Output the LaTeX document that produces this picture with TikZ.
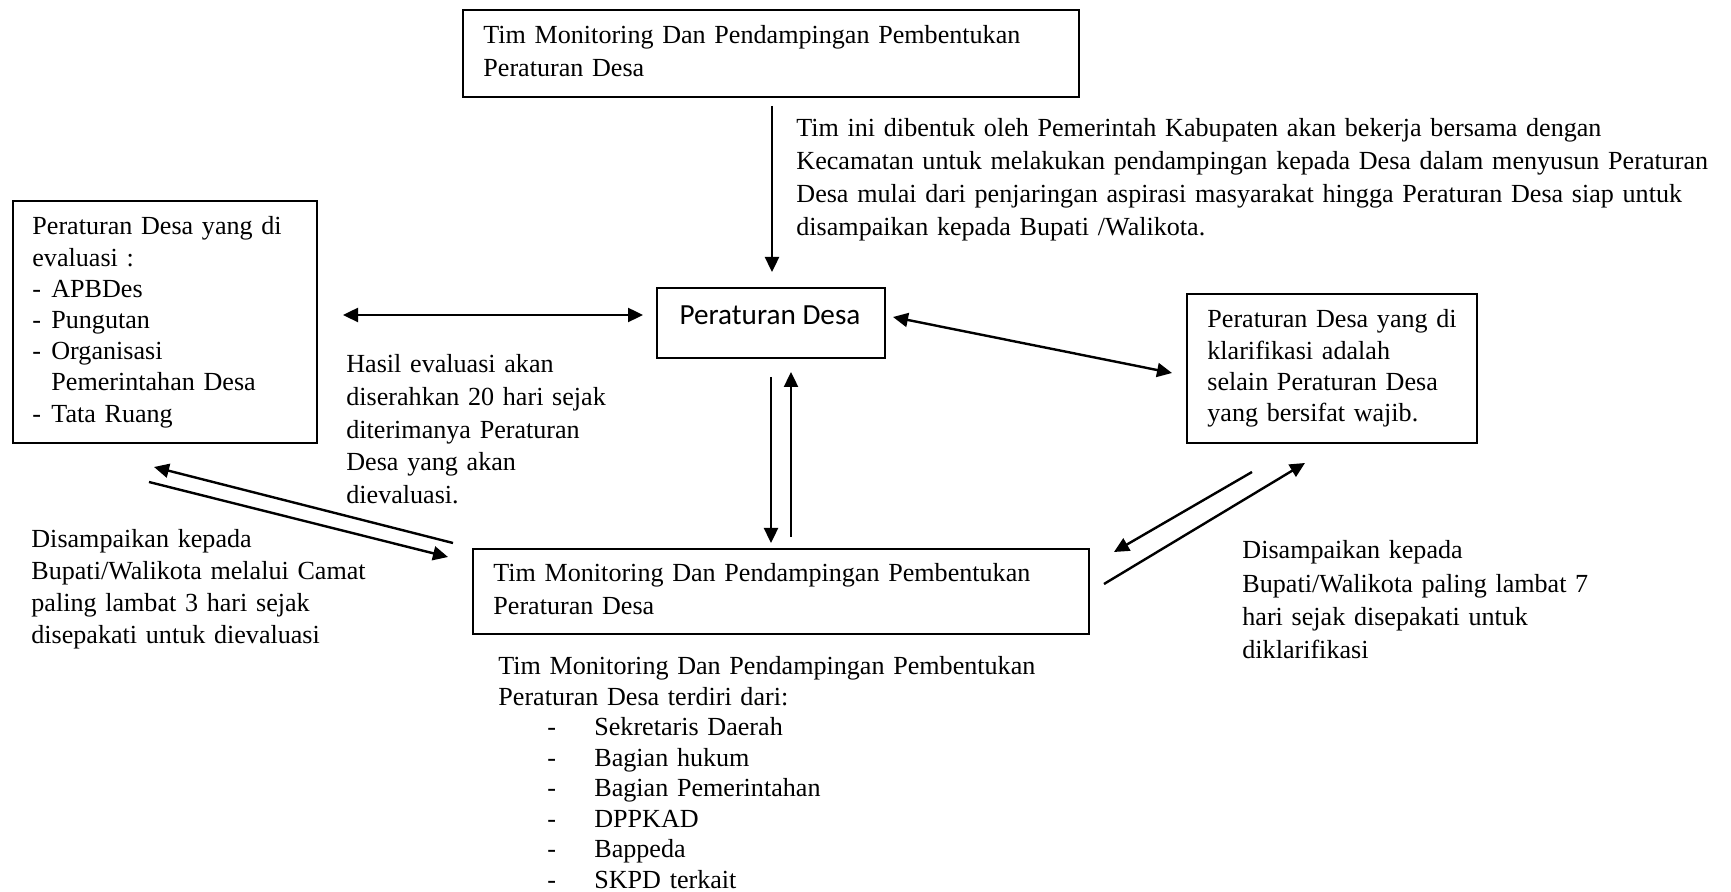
\documentclass[tikz,border=0pt]{standalone}
\usepackage{fontspec}
\setmainfont{Liberation Serif}
\newfontfamily\calfont{Carlito}
\usetikzlibrary{arrows.meta}
\begin{document}
\begin{tikzpicture}[x=0.5pt,y=-0.5pt,
  box/.style={draw, line width=1pt, rectangle, inner sep=0pt, anchor=north west},
  txt/.style={inner sep=0pt, anchor=base west, align=left, text width=330pt, font=\fontsize{13.05}{16.35}\selectfont},
  conn/.style={line width=1.2pt, -{Triangle[length=7.5pt,width=7pt]}},
  bconn/.style={line width=1.2pt, {Triangle[length=7.5pt,width=7pt]}-{Triangle[length=7.5pt,width=7pt]}}]
\useasboundingbox (0,0) rectangle (1731,892);

% boxes
\node[box, minimum width=308pt, minimum height=43.5pt] (top) at (462,9) {};
\node[txt] (toptxt) at (483,44) {Tim Monitoring Dan Pendampingan Pembentukan\\Peraturan Desa};

\node[box, minimum width=114pt, minimum height=35pt] (perdes) at (656,287) {};
\node[inner sep=0pt, anchor=base, font=\calfont\fontsize{14.6}{17}\selectfont] (perdestxt) at (770,325) {Peraturan Desa};

\node[box, minimum width=152pt, minimum height=121pt] (evalbox) at (12,200) {};
\node[txt, font=\fontsize{13.05}{15.6}\selectfont] (evaltxt) at (32,235) {Peraturan Desa yang di\\evaluasi :\\\makebox[9.5pt][l]{-}APBDes\\\makebox[9.5pt][l]{-}Pungutan\\\makebox[9.5pt][l]{-}Organisasi\\\hspace*{9.5pt}Pemerintahan Desa\\\makebox[9.5pt][l]{-}Tata Ruang};

\node[box, minimum width=145pt, minimum height=74.5pt] (klarbox) at (1186,293) {};
\node[txt, font=\fontsize{13.05}{15.6}\selectfont] (klartxt) at (1207,328) {Peraturan Desa yang di\\klarifikasi adalah\\selain Peraturan Desa\\yang bersifat wajib.};

\node[box, minimum width=308pt, minimum height=42.5pt] (tim) at (472,548) {};
\node[txt] (timtxt) at (493,582) {Tim Monitoring Dan Pendampingan Pembentukan\\Peraturan Desa};

% free texts
\node[txt, text width=500pt] (note) at (796,137) {Tim ini dibentuk oleh Pemerintah Kabupaten akan bekerja bersama dengan\\Kecamatan untuk melakukan pendampingan kepada Desa dalam menyusun Peraturan\\Desa mulai dari penjaringan aspirasi masyarakat hingga Peraturan Desa siap untuk\\disampaikan kepada Bupati /Walikota.};

\node[txt, font=\fontsize{13.05}{16.3}\selectfont] (hasil) at (346,373) {Hasil evaluasi akan\\diserahkan 20 hari sejak\\diterimanya Peraturan\\Desa yang akan\\dievaluasi.};

\node[txt, font=\fontsize{13.05}{16}\selectfont] (leftnote) at (31,548) {Disampaikan kepada\\Bupati/Walikota melalui Camat\\paling lambat 3 hari sejak\\disepakati untuk dievaluasi};

\node[txt, font=\fontsize{13.05}{16.6}\selectfont] (rightnote) at (1242,559) {Disampaikan kepada\\Bupati/Walikota paling lambat 7\\hari sejak disepakati untuk\\diklarifikasi};

\node[txt, font=\fontsize{13.05}{15.25}\selectfont] (members) at (498,675) {Tim Monitoring Dan Pendampingan Pembentukan\\Peraturan Desa terdiri dari:\\
\hspace*{24.5pt}\makebox[23.5pt][l]{-}Sekretaris Daerah\\
\hspace*{24.5pt}\makebox[23.5pt][l]{-}Bagian hukum\\
\hspace*{24.5pt}\makebox[23.5pt][l]{-}Bagian Pemerintahan\\
\hspace*{24.5pt}\makebox[23.5pt][l]{-}DPPKAD\\
\hspace*{24.5pt}\makebox[23.5pt][l]{-}Bappeda\\
\hspace*{24.5pt}\makebox[23.5pt][l]{-}SKPD terkait};

% connector end points
\coordinate (topS) at (772,106);
\coordinate (perdesN) at (772,272);
\coordinate (evalE) at (343,315);
\coordinate (perdesW) at (643,315);
\coordinate (perdesE) at (893,317);
\coordinate (klarW) at (1172,373);
\coordinate (perdesS1) at (771,377);
\coordinate (timN1) at (771,543);
\coordinate (timN2) at (791,537);
\coordinate (perdesS2) at (791,372);
\coordinate (timW1) at (453,543);
\coordinate (evalS1) at (154,467);
\coordinate (evalS2) at (149,482);
\coordinate (timW2) at (448,557);
\coordinate (klarS1) at (1252,472);
\coordinate (timE1) at (1114,552);
\coordinate (timE2) at (1104,584);
\coordinate (klarS2) at (1305,463);

% connectors
\draw[conn] (topS) -- (perdesN);
\draw[bconn] (evalE) -- (perdesW);
\draw[bconn] (perdesE) -- (klarW);
\draw[conn] (perdesS1) -- (timN1);
\draw[conn] (timN2) -- (perdesS2);
\draw[conn] (timW1) -- (evalS1);
\draw[conn] (evalS2) -- (timW2);
\draw[conn] (klarS1) -- (timE1);
\draw[conn] (timE2) -- (klarS2);
\end{tikzpicture}
\end{document}
